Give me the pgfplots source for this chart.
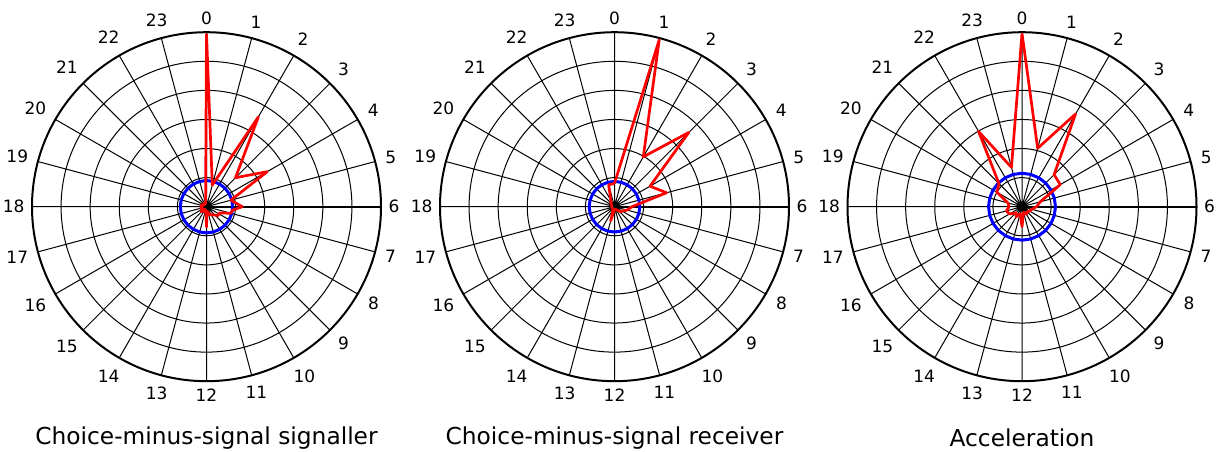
\documentclass[border=0pt]{standalone}
\usepackage{pgfplots}
\usepackage{pgfplotstable}
\pgfplotsset{compat=1.18}
\usepgfplotslibrary{polar}
\usepackage{fontspec}
\setmainfont{DejaVu Sans}

% hour (0..24, clockwise from top) and radius
\pgfplotstableread{
h r
0 5.95
1 0.77
2 3.57
3 1.41
4 2.41
5 0.87
6 1.23
6.5 0.9
7 0.87
7.7 0.5
8.5 0.5
9.5 0.35
10.5 0.3
11.5 0.15
12 0.7
12.5 0.15
13 0.2
14 0.1
15 0.25
16 0.15
17 0.2
18 0.15
19 0.2
20 0.1
21 0.15
22 0.1
23 0.12
24 5.95
}\dataA

\pgfplotstableread{
h r
0 0.8
1 5.94
2 1.98
3 3.61
4 1.41
5 1.85
6 0.6
7 0.45
8 0.3
8.5 0.28
9.5 0.15
10.5 0.1
11.5 0.1
12.5 0.15
13 0.5
13.5 0.15
14 0.1
15 0.1
16 0.08
17 0.1
18 0.1
19 0.1
20 0.12
21 0.17
22 0.25
23 0.78
24 0.8
}\dataB

\pgfplotstableread{
h r
0 5.96
1 2.08
2 3.68
3 1.56
4 1.52
5 0.65
6 0.5
7 0.35
8 0.3
9 0.25
10 0.3
11 0.2
12 0.69
13 0.25
14 0.4
15 0.3
16 0.5
17 0.55
18 0.45
19 0.5
20 1.0
21 1.12
22 2.99
23 1.4
24 5.96
}\dataC

% constant-radius reference circles: angle, radius for each chart
\pgfplotstableread{
a rA rB rC
0 0.9 0.87 1.15
15 0.9 0.87 1.15
30 0.9 0.87 1.15
45 0.9 0.87 1.15
60 0.9 0.87 1.15
75 0.9 0.87 1.15
90 0.9 0.87 1.15
105 0.9 0.87 1.15
120 0.9 0.87 1.15
135 0.9 0.87 1.15
150 0.9 0.87 1.15
165 0.9 0.87 1.15
180 0.9 0.87 1.15
195 0.9 0.87 1.15
210 0.9 0.87 1.15
225 0.9 0.87 1.15
240 0.9 0.87 1.15
255 0.9 0.87 1.15
270 0.9 0.87 1.15
285 0.9 0.87 1.15
300 0.9 0.87 1.15
315 0.9 0.87 1.15
330 0.9 0.87 1.15
345 0.9 0.87 1.15
360 0.9 0.87 1.15
}\circtab

\pgfplotsset{
  myp/.style={
    width=174.5pt, height=174.5pt, scale only axis,
    xmin=0, xmax=360, ymin=0, ymax=6,
    xtick={0,15,...,345},
    xticklabels={6,5,4,3,2,1,0,23,22,21,20,19,18,17,16,15,14,13,12,11,10,9,8,7},
    ytick={1,2,3,4,5}, yticklabels={},
    grid=major, major grid style={black, line width=0.5pt},
    axis line style={black, line width=1pt},
    major tick length=0pt,
    xticklabel style={font=\fontsize{8.5}{10}\selectfont, inner sep=3.6pt},
    title style={at={(0.5,-0.16)}, anchor=center, yshift=-15pt, font=\fontsize{11.65}{13}\selectfont},
    anchor=center,
  },
  redline/.style={red, line width=1.35pt, line join=round},
  blueline/.style={blue, line width=1.5pt},
}

\begin{document}
\begin{tikzpicture}
\useasboundingbox (0pt,0pt) rectangle (612.5pt,-225.5pt);
\begin{polaraxis}[myp, at={(103.25pt,-103.35pt)}, title={Choice-minus-signal signaller}]
\addplot[blueline] table[x=a, y=rA] {\circtab};
\addplot[redline] table[x expr={mod(450-15*\thisrow{h},360)}, y=r] {\dataA};
\end{polaraxis}
\begin{polaraxis}[myp, at={(307.25pt,-103.35pt)}, title={Choice-minus-signal receiver}]
\addplot[blueline] table[x=a, y=rB] {\circtab};
\addplot[redline] table[x expr={mod(450-15*\thisrow{h},360)}, y=r] {\dataB};
\end{polaraxis}
\begin{polaraxis}[myp, at={(511pt,-103.35pt)}, title={Acceleration}]
\addplot[blueline] table[x=a, y=rC] {\circtab};
\addplot[redline] table[x expr={mod(450-15*\thisrow{h},360)}, y=r] {\dataC};
\end{polaraxis}
\end{tikzpicture}
\end{document}
